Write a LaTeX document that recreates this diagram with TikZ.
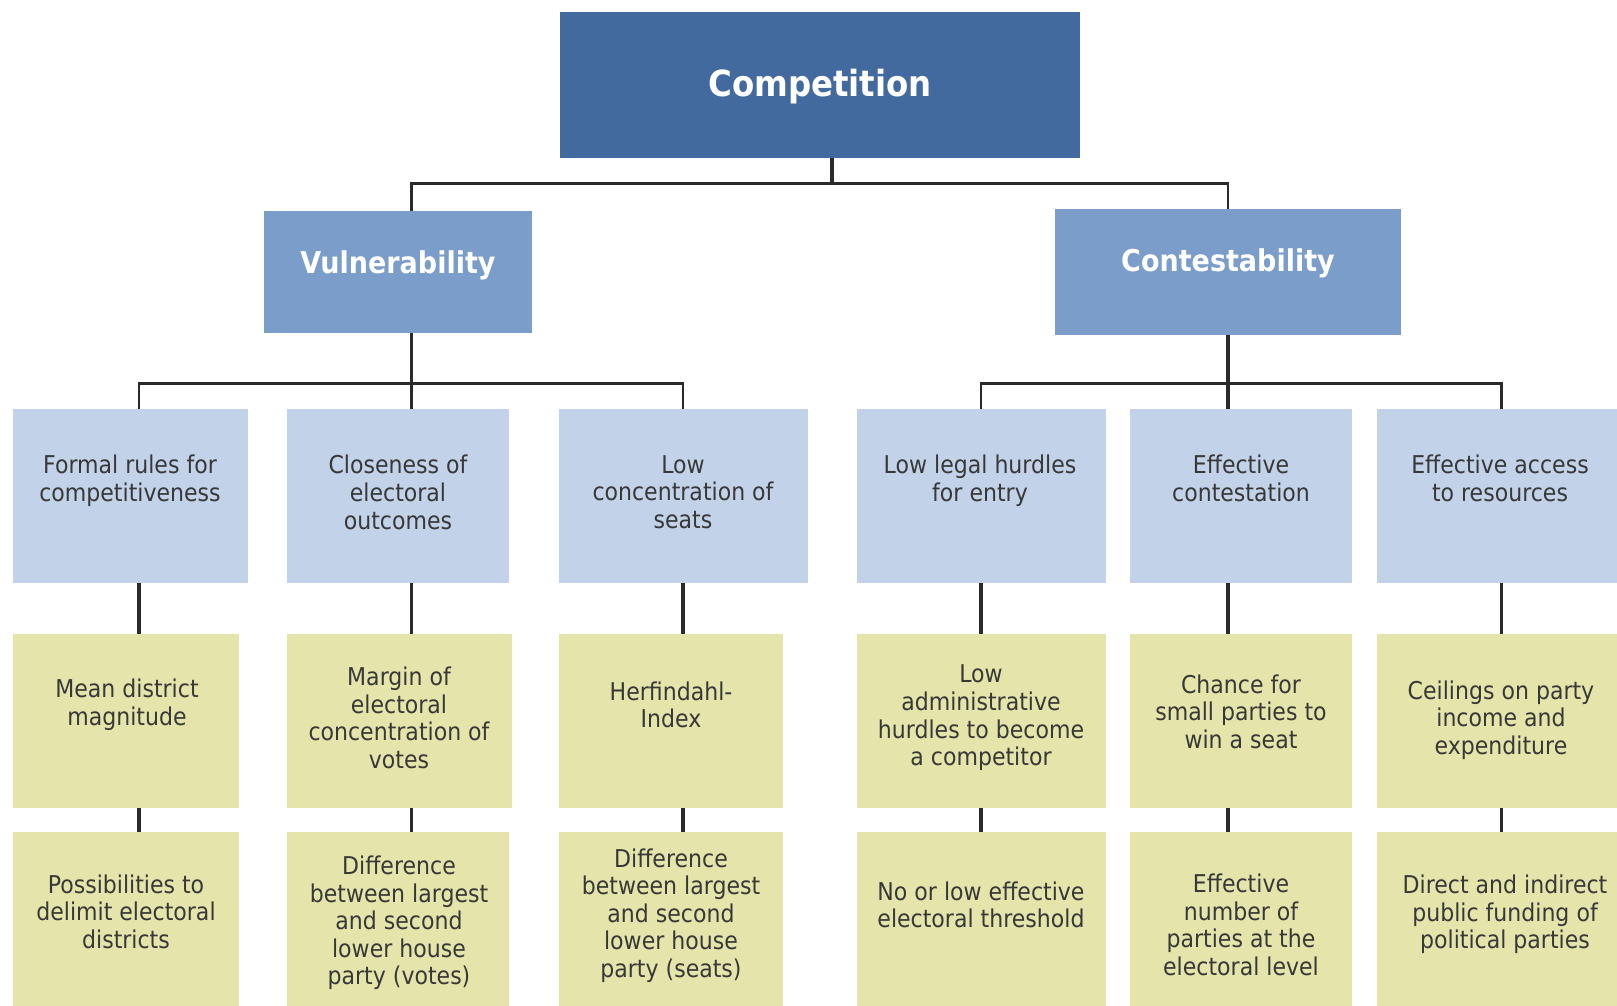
\documentclass[tikz,border=0pt]{standalone}
\usepackage{fontspec}
\setmainfont[FakeStretch=0.9]{DejaVu Sans}
\definecolor{cTop}{HTML}{436A9F}
\definecolor{cMid}{HTML}{7B9DCA}
\definecolor{cL3}{HTML}{C2D2E8}
\definecolor{cYel}{HTML}{E4E4AB}
\definecolor{cTxt}{HTML}{383838}
\definecolor{cLine}{HTML}{2A2A2A}
\tikzset{
  boxnode/.style={anchor=north west,inner sep=0pt,outer sep=0pt,draw=none},
  topbox/.style={boxnode,fill=cTop},
  midbox/.style={boxnode,fill=cMid},
  lthree/.style={boxnode,fill=cL3},
  lyel/.style={boxnode,fill=cYel},
  bigtxt/.style={text=white,font=\bfseries\fontsize{36}{40}\selectfont,inner sep=0pt},
  midtxt/.style={text=white,font=\bfseries\fontsize{30}{34}\selectfont,inner sep=0pt},
  smtxt/.style={text=cTxt,align=center,font=\fontsize{24.5}{27.6}\selectfont,inner sep=0pt},
  conn/.style={draw=cLine,line width=3.4pt},
  bus/.style={draw=cLine,line width=2.6pt},
}
\begin{document}
\begin{tikzpicture}[x=1pt,y=-1pt]
\useasboundingbox (0,0) rectangle (1617,1005);
% top
\node[topbox,minimum width=520pt,minimum height=146pt] (comp) at (560,12) {};
\node[bigtxt] (compt) at (820,87) {Competition};
\node[midbox,minimum width=268pt,minimum height=122pt] (vul) at (264,211) {};
\node[midtxt] (vult) at (398,265) {Vulnerability};
\node[midbox,minimum width=346pt,minimum height=126pt] (con) at (1055,209) {};
\node[midtxt] (cont) at (1228,263) {Contestability};
% level 3
\node[lthree,minimum width=234.5pt,minimum height=174pt] (la) at (13,409) {};
\node[lthree,minimum width=222.7pt,minimum height=174pt] (lb) at (286.7,409) {};
\node[lthree,minimum width=248.5pt,minimum height=174pt] (lc) at (559,409) {};
\node[lthree,minimum width=248.5pt,minimum height=174pt] (ld) at (857,409) {};
\node[lthree,minimum width=222pt,minimum height=174pt] (le) at (1130,409) {};
\node[lthree,minimum width=240pt,minimum height=174pt] (lf) at (1377,409) {};
\node[smtxt,anchor=north] (lat) at (130,455) {Formal rules for\\competitiveness};
\node[smtxt,anchor=north] (lbt) at (398,455) {Closeness of\\electoral\\outcomes};
\node[smtxt,anchor=north] (lct) at (683,455) {Low\\concentration of\\seats};
\node[smtxt,anchor=north] (ldt) at (980,455) {Low legal hurdles\\for entry};
\node[smtxt,anchor=north] (let) at (1241,455) {Effective\\contestation};
\node[smtxt,anchor=north] (lft) at (1500,455) {Effective access\\to resources};
% level 4
\node[lyel,minimum width=226pt,minimum height=173.5pt] (ma) at (13,634) {};
\node[lyel,minimum width=224.8pt,minimum height=173.5pt] (mb) at (286.7,634) {};
\node[lyel,minimum width=224pt,minimum height=173.5pt] (mc) at (559,634) {};
\node[lyel,minimum width=248.5pt,minimum height=173.5pt] (md) at (857,634) {};
\node[lyel,minimum width=222pt,minimum height=173.5pt] (me) at (1130,634) {};
\node[lyel,minimum width=240pt,minimum height=173.5pt] (mf) at (1377,634) {};
\node[smtxt] (mat) at (127,705) {Mean district\\magnitude};
\node[smtxt] (mbt) at (399,718) {Margin of\\electoral\\concentration of\\votes};
\node[smtxt] (mct) at (671,705) {Herfindahl-\\Index};
\node[smtxt] (mdt) at (981,718) {Low\\administrative\\hurdles to become\\a competitor};
\node[smtxt] (met) at (1241,711.5) {Chance for\\small parties to\\win a seat};
\node[smtxt] (mft) at (1501,720) {Ceilings on party\\income and\\expenditure};
% level 5
\node[lyel,minimum width=226pt,minimum height=174pt] (na) at (13,832) {};
\node[lyel,minimum width=222.7pt,minimum height=174pt] (nb) at (286.7,832) {};
\node[lyel,minimum width=224pt,minimum height=174pt] (nc) at (559,832) {};
\node[lyel,minimum width=248.5pt,minimum height=174pt] (nd) at (857,832) {};
\node[lyel,minimum width=222pt,minimum height=174pt] (ne) at (1130,832) {};
\node[lyel,minimum width=240pt,minimum height=174pt] (nf) at (1377,832) {};
\node[smtxt] (nat) at (126,911.5) {Possibilities to\\delimit electoral\\districts};
\node[smtxt] (nbt) at (399,923) {Difference\\between largest\\and second\\lower house\\party (votes)};
\node[smtxt] (nct) at (671,915.6) {Difference\\between largest\\and second\\lower house\\party (seats)};
\node[smtxt] (ndt) at (981,905) {No or low effective\\electoral threshold};
\node[smtxt] (net) at (1241,925) {Effective\\number of\\parties at the\\electoral level};
\node[smtxt] (nft) at (1505,914.6) {Direct and indirect\\public funding of\\political parties};
% column coordinates
\coordinate (cA) at (139,0);
\coordinate (cB) at (411.5,0);
\coordinate (cC) at (683,0);
\coordinate (cD) at (981,0);
\coordinate (cE) at (1228,0);
\coordinate (cF) at (1501.5,0);
\coordinate (j0) at (832,183.6);
\coordinate (busy) at (0,383.6);
% connectors top
\draw[conn] (comp.south -| j0) -- (j0);
\draw[bus] (vul.north -| cB) -- (cB |- j0) -- (cE |- j0) -- (con.north -| cE);
% buses
\draw[bus] (la.north -| cA) -- (cA |- busy) -- (cC |- busy) -- (lc.north -| cC);
\draw[conn] (vul.south -| cB) -- (lb.north -| cB);
\draw[bus] (ld.north -| cD) -- (cD |- busy) -- (cF |- busy) -- (lf.north -| cF);
\draw[conn] (con.south -| cE) -- (le.north -| cE);
% verticals
\foreach \c/\u/\v/\w in {cA/la/ma/na,cB/lb/mb/nb,cC/lc/mc/nc,cD/ld/md/nd,cE/le/me/ne,cF/lf/mf/nf}{
  \draw[conn] (\u.south -| \c) -- (\v.north -| \c);
  \draw[conn] (\v.south -| \c) -- (\w.north -| \c);
}
\end{tikzpicture}
\end{document}
